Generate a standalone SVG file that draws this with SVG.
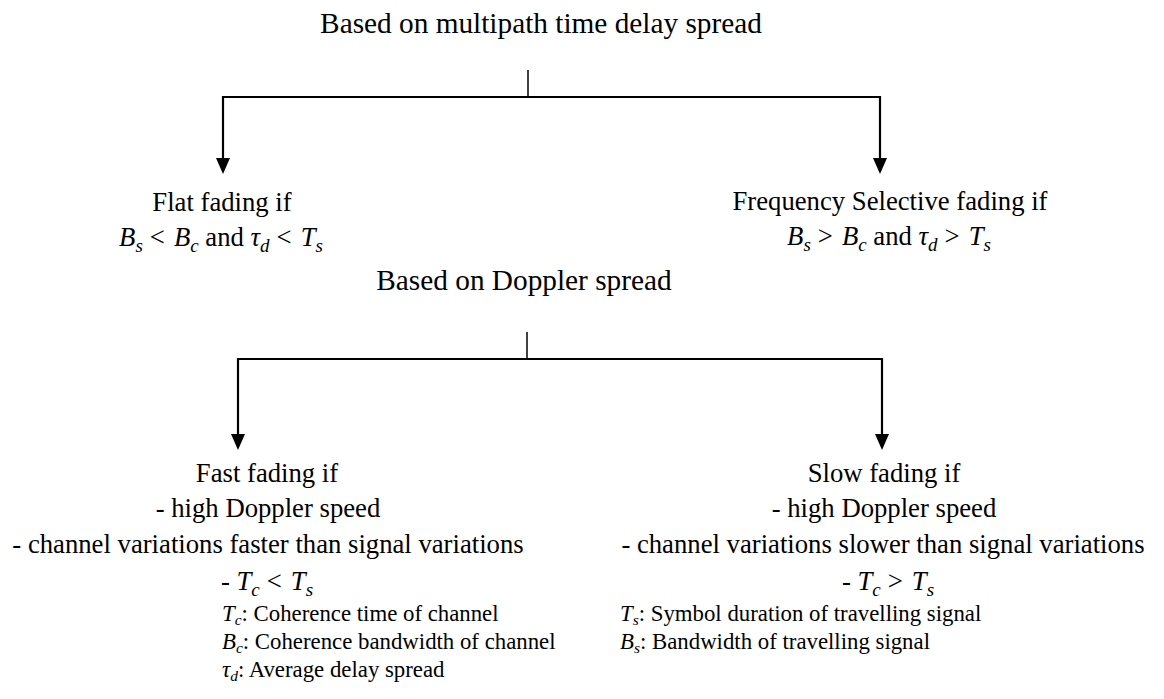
<svg xmlns="http://www.w3.org/2000/svg" width="1164" height="699" viewBox="0 0 1164 699">
<defs>
<style>
text{font-family:"Liberation Serif","Times New Roman",serif;fill:#000}
.h{font-family:"Liberation Serif","Times New Roman",serif;font-size:29.3px}
.t{font-family:"Liberation Serif","Times New Roman",serif;font-size:26.7px}
.lg{font-family:"Liberation Serif","Times New Roman",serif;font-size:22.8px}
.m{font-style:italic}
.sb{font-style:italic;font-size:19px}
.sl{font-style:italic;font-size:15.5px}
.conn{stroke:#000;stroke-width:2.2;fill:none}
.stem{stroke:#000;stroke-width:1.5;fill:none}
</style>
</defs>
<rect width="1164" height="699" fill="#fff"/>
<g id="connectors">
<line class="stem" x1="528" y1="70" x2="528" y2="97"/>
<polyline class="conn" points="223,97 880,97"/>
<path class="conn" d="M223,96 V158"/>
<path d="M216,158 L230,158 L223,174 Z"/>
<path class="conn" d="M880,96 V158"/>
<path d="M873,158 L887,158 L880,174 Z"/>
<line class="stem" x1="527" y1="332" x2="527" y2="359"/>
<polyline class="conn" points="238,359 882,359"/>
<path class="conn" d="M238,358 V434"/>
<path d="M231,434 L245,434 L238,450 Z"/>
<path class="conn" d="M882,358 V434"/>
<path d="M875,434 L889,434 L882,450 Z"/>
</g>
<g id="root1"><text class="h" x="541" y="33" text-anchor="middle">Based on multipath time delay spread</text></g>
<g id="flat">
<text class="t" x="222" y="211" text-anchor="middle">Flat fading if</text>
<text class="t" x="221" y="246" text-anchor="middle"><tspan class="m">B</tspan><tspan class="sb" dy="6">s</tspan><tspan dy="-6" dx="7">&lt;</tspan><tspan class="m" dx="9">B</tspan><tspan class="sb" dy="6">c</tspan><tspan dy="-6"> and </tspan><tspan class="m">τ</tspan><tspan class="sb" dy="6">d</tspan><tspan dy="-6" dx="7">&lt;</tspan><tspan class="m" dx="9">T</tspan><tspan class="sb" dy="6">s</tspan></text>
</g>
<g id="selective">
<text class="t" x="890" y="210" text-anchor="middle">Frequency Selective fading if</text>
<text class="t" x="889" y="245" text-anchor="middle"><tspan class="m">B</tspan><tspan class="sb" dy="6">s</tspan><tspan dy="-6" dx="7">&gt;</tspan><tspan class="m" dx="9">B</tspan><tspan class="sb" dy="6">c</tspan><tspan dy="-6"> and </tspan><tspan class="m">τ</tspan><tspan class="sb" dy="6">d</tspan><tspan dy="-6" dx="7">&gt;</tspan><tspan class="m" dx="9">T</tspan><tspan class="sb" dy="6">s</tspan></text>
</g>
<g id="root2"><text class="h" x="524" y="290" text-anchor="middle">Based on Doppler spread</text></g>
<g id="fast">
<text class="t" x="267" y="482" text-anchor="middle">Fast fading if</text>
<text class="t" x="268" y="517" text-anchor="middle">- high Doppler speed</text>
<text class="t" x="268" y="553" text-anchor="middle">- channel variations faster than signal variations</text>
<text class="t" x="267" y="590" text-anchor="middle">-  <tspan class="m">T</tspan><tspan class="sb" dy="6">c</tspan><tspan dy="-6" dx="7">&lt;</tspan><tspan class="m" dx="9">T</tspan><tspan class="sb" dy="6">s</tspan></text>
</g>
<g id="slow">
<text class="t" x="884" y="482" text-anchor="middle">Slow fading if</text>
<text class="t" x="884" y="517" text-anchor="middle">- high Doppler speed</text>
<text class="t" x="883" y="553" text-anchor="middle">- channel variations slower than signal variations</text>
<text class="t" x="888" y="590" text-anchor="middle">-  <tspan class="m">T</tspan><tspan class="sb" dy="6">c</tspan><tspan dy="-6" dx="7">&gt;</tspan><tspan class="m" dx="9">T</tspan><tspan class="sb" dy="6">s</tspan></text>
</g>
<g id="legend">
<text class="lg" x="222" y="621"><tspan class="m">T</tspan><tspan class="sl" dy="4">c</tspan><tspan dy="-4">: Coherence time of channel</tspan></text>
<text class="lg" x="222" y="649"><tspan class="m">B</tspan><tspan class="sl" dy="4">c</tspan><tspan dy="-4">: Coherence bandwidth of channel</tspan></text>
<text class="lg" x="222" y="677"><tspan class="m">τ</tspan><tspan class="sl" dy="4">d</tspan><tspan dy="-4">: Average delay spread</tspan></text>
<text class="lg" x="620" y="621"><tspan class="m">T</tspan><tspan class="sl" dy="4">s</tspan><tspan dy="-4">: Symbol duration of travelling signal</tspan></text>
<text class="lg" x="620" y="649"><tspan class="m">B</tspan><tspan class="sl" dy="4">s</tspan><tspan dy="-4">: Bandwidth of travelling signal</tspan></text>
</g>
</svg>
